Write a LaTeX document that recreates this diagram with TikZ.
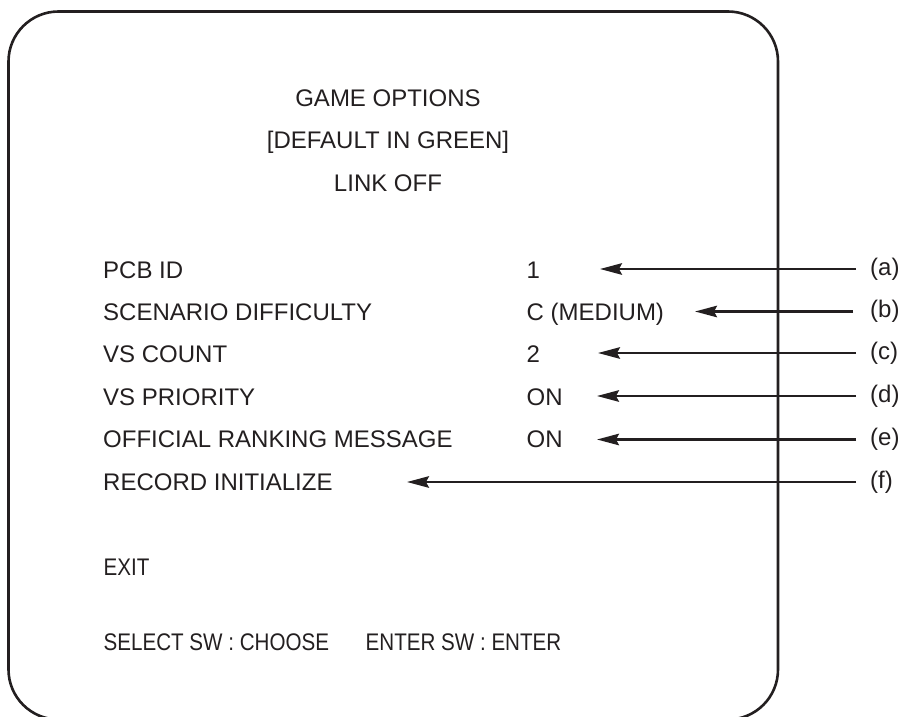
\documentclass[tikz,border=0pt]{standalone}
\usepackage{fontspec}
\setmainfont{Liberation Sans}
\usetikzlibrary{arrows.meta}
\definecolor{ink}{HTML}{231F20}
\begin{document}
\begin{tikzpicture}[x=1pt,y=-1pt,
  txt/.style={font=\fontsize{24}{28}\selectfont, text=ink, inner sep=0pt, anchor=base west},
  cond/.style={txt, xscale=0.858},
  ttl/.style={font=\fontsize{24}{28}\selectfont, text=ink, inner sep=0pt, anchor=base},
  lbl/.style={font=\fontsize{24}{28}\selectfont, text=ink, inner ysep=0pt, inner xsep=14pt, anchor=west},
  arr/.style={draw=ink, line width=2.2pt, -{Stealth[length=22pt,width=11.5pt,inset=3pt]}},
  frame/.style={draw=ink, line width=2.6pt, rounded corners=50pt}]
\useasboundingbox (0,0) rectangle (903,717);
\clip (0,0) rectangle (903,717);
\draw[frame] (8.5,11.5) rectangle (778,719.5);
% titles
\node[ttl] (t1) at (388,106.1) {GAME OPTIONS};
\node[ttl] (t2) at (388,148.6) {[DEFAULT IN GREEN]};
\node[ttl] (t3) at (388,191.1) {LINK OFF};
% left column
\node[txt] (n1) at (103,278.1) {PCB ID};
\node[txt] (n2) at (103,320.1) {SCENARIO DIFFICULTY};
\node[txt] (n3) at (103,362.6) {VS COUNT};
\node[txt] (n4) at (103,405.1) {VS PRIORITY};
\node[txt] (n5) at (103,447.6) {OFFICIAL RANKING MESSAGE};
\node[txt] (n6) at (103,490.1) {RECORD INITIALIZE};
\node[cond] (n7) at (103.5,575.6) {EXIT};
\node[cond] (n8) at (103.5,650.6) {SELECT SW : CHOOSE};
\node[cond] (n9) at (365.5,650.6) {ENTER SW : ENTER};
% values
\node[txt] (v1) at (526.5,278.1) {1};
\node[txt] (v2) at (526.5,320.1) {C (MEDIUM)};
\node[txt] (v3) at (526.5,362.6) {2};
\node[txt] (v4) at (526.5,405.1) {ON};
\node[txt] (v5) at (526.5,447.6) {ON};
% labels
\node[lbl] (la) at (856,269) {(a)};
\node[lbl,inner xsep=17pt] (lb) at (853,311.5) {(b)};
\node[lbl] (lc) at (856,353) {(c)};
\node[lbl] (ld) at (856,396) {(d)};
\node[lbl] (le) at (856,439.5) {(e)};
\node[lbl] (lf) at (856,482) {(f)};
% arrow tips
\coordinate (ta) at (600,269);
\coordinate (tb) at (695,311.5);
\coordinate (tc) at (598,353);
\coordinate (td) at (597,396);
\coordinate (te) at (597,439.5);
\coordinate (tf) at (407,482);
\draw[arr] (la.west) -- (ta);
\draw[arr] (lb.west) -- (tb);
\draw[arr] (lc.west) -- (tc);
\draw[arr] (ld.west) -- (td);
\draw[arr] (le.west) -- (te);
\draw[arr] (lf.west) -- (tf);
\end{tikzpicture}
\end{document}
